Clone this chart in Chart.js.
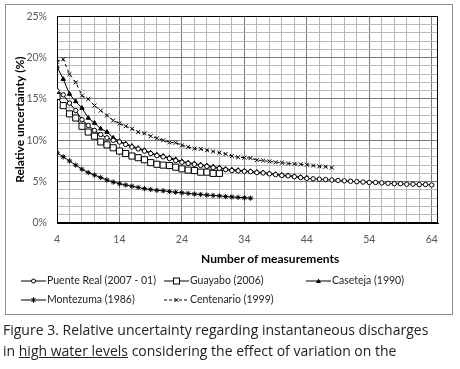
<!DOCTYPE html>
<html>
<head>
<meta charset="utf-8">
<script src="https://cdn.jsdelivr.net/npm/chart.js@4"></script>
<style>
  body { margin:0; background:#fff; width:460px; height:369px; overflow:hidden; position:relative; }
  #frame { position:absolute; left:5px; top:4px; width:446px; height:309px; border:1px solid #8c8c8c; }
  #chart { position:absolute; left:0; top:0; }
  #xtitle { position:absolute; left:201px; top:251px; font:bold 12px Lato, sans-serif; color:#000; white-space:nowrap; }
  .leg { position:absolute; height:12px; font:10.5px Lato, sans-serif; color:#222; white-space:nowrap; }
  .leg svg { position:absolute; left:0; top:1px; }
  .leg span { position:absolute; left:26px; top:-1px; }
  #caption { position:absolute; left:3px; top:319px; font:14px "Open Sans", sans-serif; line-height:21px; color:#222; white-space:nowrap; }
</style>
</head>
<body>
<div id="frame"></div>
<canvas id="chart" width="460" height="270"></canvas>
<div id="xtitle">Number of measurements</div>
<div id="legend"></div>
<div id="caption">Figure 3. Relative uncertainty regarding instantaneous discharges<br>in <u>high water levels</u> considering the effect of variation on the</div>
<script>
// number of measurements (x)
var measurements = [4,5,6,7,8,9,10,11,12,13,14,15,16,17,18,19,20,21,22,23,24,25,26,27,28,29,30,
  31,32,33,34,35,36,37,38,39,40,41,42,43,44,45,46,47,48,49,50,51,52,53,54,55,56,57,58,59,60,61,62,63,64];

// relative uncertainty (%), starting at 4 measurements
var puenteReal = [16.0,15.5,14.5,13.6,12.5,11.8,11.2,10.7,10.3,10.0,9.8,9.5,9.2,8.95,8.7,8.4,8.15,8.0,7.8,7.55,
  7.35,7.2,7.1,6.95,6.85,6.7,6.6,6.45,6.35,6.3,6.25,6.2,6.1,6.05,5.95,5.85,5.75,5.7,5.6,5.5,
  5.4,5.35,5.3,5.25,5.2,5.15,5.1,5.05,5.0,4.95,4.9,4.9,4.85,4.8,4.75,4.75,4.7,4.7,4.65,4.65,4.6];
var guayabo = [15.3,14.2,13.2,12.7,11.7,11.0,10.5,9.8,9.45,9.1,8.7,8.4,8.1,7.9,7.65,7.3,7.1,7.0,6.95,6.75,
  6.55,6.4,6.35,6.15,6.15,6.0,6.0];
var caseteja = [18.9,17.4,15.6,14.7,13.9,12.7,12.1,11.4,11.0,10.3,9.9,9.6,9.3,9.05,8.8,8.5,8.25,8.1,7.9,7.7,
  7.45,7.3,7.2,7.05,6.95,6.8,6.7,6.55,6.45,6.4,6.3,6.25,6.15,6.1,6.0,5.9,5.8,5.75,5.65,5.55,5.45];
var montezuma = [8.5,8.0,7.5,7.0,6.5,6.1,5.8,5.5,5.2,4.95,4.75,4.6,4.45,4.3,4.15,4.05,3.95,3.9,3.8,3.72,
  3.65,3.58,3.5,3.45,3.38,3.33,3.28,3.2,3.15,3.1,3.05,3.0];
var centenario = [19.5,19.8,18.0,17.0,15.4,15.0,14.2,13.6,13.0,12.4,12.05,11.7,11.4,11.0,10.85,10.5,10.25,10.0,9.75,9.7,
  9.4,9.2,9.0,8.95,8.8,8.65,8.5,8.35,8.1,7.95,7.9,7.85,7.6,7.55,7.45,7.35,7.3,7.2,7.15,7.1,
  7.05,6.95,6.85,6.8,6.7];

var seriesNames = ["Puente Real (2007 - 01)", "Guayabo (2006)", "Caseteja (1990)", "Montezuma (1986)", "Centenario (1999)"];
var xLabels = [4,14,24,34,44,54,64];
var yLabels = [0,5,10,15,20,25];

var xGrid = [], yGrid = [];
for (var v = 4; v <= 64; v += 2) xGrid.push(v);
for (var w = 0; w <= 25; w += 1) yGrid.push(w);

var MAJOR = '#7a7a7a', MINOR = '#b8b8b8';

function toPts(ys) {
  return ys.map(function (y, i) { return {x: measurements[i], y: y}; });
}

var styles = [
  {pointStyle:'circle', pointRadius:2.2, pointBackgroundColor:'#fff'},
  {pointStyle:'rect', pointRadius:4.3, pointBackgroundColor:'#fff'},
  {pointStyle:'triangle', pointRadius:2.5, pointBackgroundColor:'#000'},
  {pointStyle:'star', pointRadius:2.6, pointBackgroundColor:'#000'},
  {pointStyle:'crossRot', pointRadius:2.8, pointBackgroundColor:'#000', borderDash:[3,3]}
];
var allData = [puenteReal, guayabo, caseteja, montezuma, centenario];

var datasets = allData.map(function (d, i) {
  var s = styles[i];
  return {
    label: seriesNames[i],
    data: toPts(d),
    borderColor: '#000',
    borderWidth: 1,
    borderDash: s.borderDash || [],
    pointStyle: s.pointStyle,
    pointRadius: s.pointRadius,
    pointBorderColor: '#000',
    pointBorderWidth: 1,
    pointBackgroundColor: s.pointBackgroundColor,
    tension: 0
  };
});

var plotBorder = {
  id: 'plotBorder',
  beforeDatasetsDraw: function (chart) {
    var a = chart.chartArea, c = chart.ctx;
    c.save();
    c.strokeStyle = '#000';
    c.lineWidth = 1;
    c.strokeRect(Math.round(a.left) + 0.5, Math.round(a.top) + 0.5, Math.round(a.width) - 1, Math.round(a.height) - 1);
    c.restore();
  }
};

var ctx = document.getElementById('chart').getContext('2d');
var chart = new Chart(ctx, {
  type: 'line',
  data: { datasets: datasets },
  options: {
    responsive: false,
    animation: false,
    layout: { padding: { left: 0, top: 14, right: 22, bottom: 0 } },
    plugins: { legend: { display: false }, tooltip: { enabled: false } },
    scales: {
      x: {
        type: 'linear', min: 4, max: 65,
        afterBuildTicks: function (s) { s.ticks = xGrid.map(function (v) { return {value: v}; }); },
        afterFit: function (s) { s.height = 47; },
        grid: {
          drawTicks: false,
          color: function (c) { return c.tick && xLabels.indexOf(c.tick.value) >= 0 ? MAJOR : MINOR; }
        },
        border: { color: '#000' },
        ticks: {
          padding: 10, autoSkip: false, maxRotation: 0, color: '#595959',
          font: { family: 'Lato', size: 10.5 },
          callback: function (v) { return xLabels.indexOf(v) >= 0 ? String(v) : ''; }
        }
      },
      y: {
        min: 0, max: 25,
        afterBuildTicks: function (s) { s.ticks = yGrid.map(function (v) { return {value: v}; }); },
        afterFit: function (s) { s.width = 57; },
        grid: {
          drawTicks: false,
          color: function (c) { return c.tick && yLabels.indexOf(c.tick.value) >= 0 ? MAJOR : MINOR; }
        },
        border: { color: '#000' },
        title: {
          display: true, text: 'Relative uncertainty (%)', color: '#000',
          font: { family: 'Lato', size: 12, weight: 'bold' },
          padding: { top: 13, bottom: 0 }
        },
        ticks: {
          padding: 10, autoSkip: false, color: '#595959',
          font: { family: 'Lato', size: 10.5 },
          callback: function (v) { return yLabels.indexOf(v) >= 0 ? v + '%' : ''; }
        }
      }
    }
  },
  plugins: [plotBorder]
});

// legend (line + marker, like the spreadsheet legend)
var legendPos = [[21,275],[164,275],[306,275],[21,294],[164,294]];
var markerSvg = [
  '<circle cx="12.5" cy="5" r="2" fill="#fff" stroke="#000"/>',
  '<rect x="9.5" y="2" width="6" height="6" fill="#fff" stroke="#000"/>',
  '<path d="M12.5 2.5 L15 7 L10 7 Z" fill="#000"/>',
  '<path d="M10.5 3 L14.5 7 M14.5 3 L10.5 7 M12.5 2.2 L12.5 7.8" stroke="#000"/>',
  '<path d="M10.5 3 L14.5 7 M14.5 3 L10.5 7" stroke="#000"/>'
];
var legendHtml = '';
seriesNames.forEach(function (name, i) {
  var dash = i === 4 ? ' stroke-dasharray="3,2"' : '';
  legendHtml += '<div class="leg" style="left:' + legendPos[i][0] + 'px;top:' + legendPos[i][1] + 'px">' +
    '<svg width="25" height="10"><line x1="0" y1="5" x2="25" y2="5" stroke="#000" stroke-width="1"' + dash + '/>' +
    markerSvg[i] + '</svg><span>' + name + '</span></div>';
});
document.getElementById('legend').innerHTML = legendHtml;
</script>
</body>
</html>
